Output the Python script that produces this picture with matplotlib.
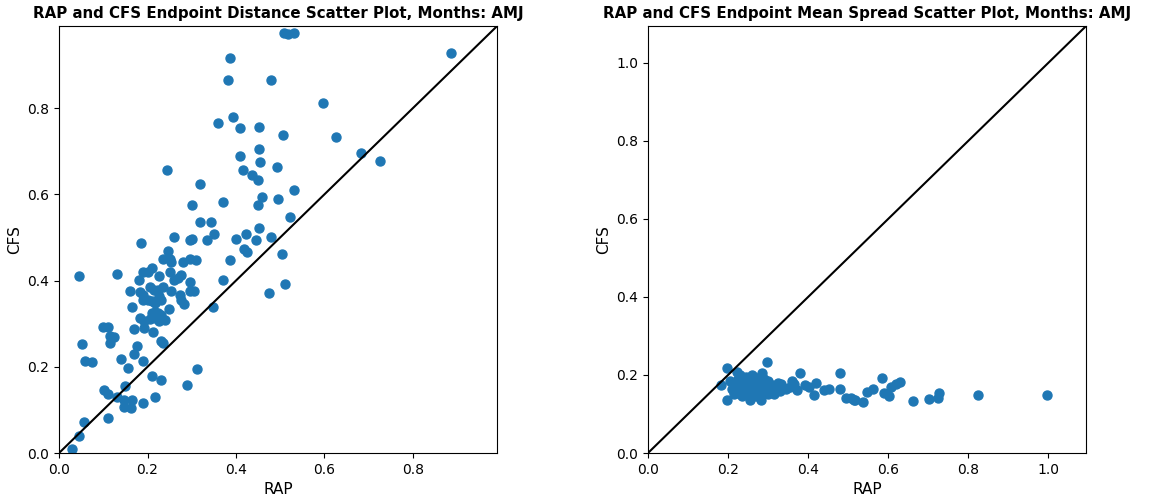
import matplotlib
matplotlib.use('Agg')
from matplotlib import pyplot as plt

# endpoint distance (left panel)
dist_rap = [0.386, 0.381, 0.480, 0.394, 0.360, 0.410, 0.452, 0.506, 0.452, 0.410,
            0.454, 0.493, 0.416, 0.244, 0.437, 0.450, 0.318, 0.458, 0.496, 0.371,
            0.450, 0.301, 0.318, 0.343, 0.452, 0.351, 0.259, 0.300, 0.295, 0.334,
            0.401, 0.423, 0.445, 0.479, 0.186, 0.509, 0.517, 0.530, 0.887, 0.596,
            0.626, 0.683, 0.725, 0.530, 0.522, 0.505, 0.511, 0.475, 0.246, 0.417,
            0.425, 0.235, 0.250, 0.254, 0.280, 0.297, 0.310, 0.387, 0.209, 0.201,
            0.190, 0.250, 0.132, 0.045, 0.227, 0.275, 0.269, 0.260, 0.180, 0.370,
            0.297, 0.206, 0.215, 0.224, 0.235, 0.161, 0.182, 0.190, 0.252, 0.295,
            0.305, 0.227, 0.230, 0.273, 0.276, 0.282, 0.190, 0.200, 0.209, 0.216,
            0.164, 0.248, 0.348, 0.216, 0.209, 0.224, 0.231, 0.216, 0.239, 0.227,
            0.205, 0.192, 0.182, 0.100, 0.111, 0.169, 0.192, 0.212, 0.115, 0.125,
            0.115, 0.230, 0.235, 0.052, 0.177, 0.169, 0.059, 0.075, 0.140, 0.190,
            0.156, 0.311, 0.210, 0.231, 0.149, 0.290, 0.102, 0.110, 0.132, 0.147,
            0.165, 0.218, 0.147, 0.162, 0.190, 0.111, 0.057, 0.045, 0.029]
dist_cfs = [0.915, 0.866, 0.864, 0.779, 0.766, 0.753, 0.755, 0.738, 0.705, 0.688,
            0.674, 0.664, 0.657, 0.657, 0.644, 0.633, 0.624, 0.593, 0.589, 0.582,
            0.575, 0.575, 0.536, 0.536, 0.521, 0.509, 0.501, 0.497, 0.494, 0.494,
            0.497, 0.507, 0.494, 0.501, 0.486, 0.973, 0.971, 0.973, 0.928, 0.812,
            0.734, 0.695, 0.677, 0.609, 0.548, 0.462, 0.392, 0.372, 0.469, 0.472,
            0.466, 0.451, 0.451, 0.443, 0.443, 0.449, 0.447, 0.447, 0.428, 0.420,
            0.420, 0.420, 0.416, 0.410, 0.410, 0.412, 0.407, 0.402, 0.401, 0.401,
            0.396, 0.384, 0.379, 0.378, 0.384, 0.375, 0.374, 0.366, 0.375, 0.375,
            0.375, 0.364, 0.355, 0.366, 0.355, 0.345, 0.355, 0.355, 0.353, 0.347,
            0.338, 0.334, 0.338, 0.327, 0.324, 0.324, 0.320, 0.314, 0.308, 0.307,
            0.310, 0.307, 0.312, 0.293, 0.293, 0.287, 0.289, 0.281, 0.271, 0.270,
            0.254, 0.260, 0.254, 0.253, 0.248, 0.229, 0.213, 0.211, 0.219, 0.213,
            0.196, 0.194, 0.178, 0.169, 0.155, 0.158, 0.146, 0.136, 0.130, 0.124,
            0.123, 0.130, 0.107, 0.104, 0.115, 0.082, 0.071, 0.040, 0.009]

# endpoint mean spread (right panel)
spread_rap = [0.197, 0.183, 0.197, 0.297, 0.222, 0.256, 0.281, 0.314, 0.331, 0.379,
              0.364, 0.373, 0.393, 0.402, 0.419, 0.414, 0.439, 0.451, 0.479, 0.480,
              0.494, 0.515, 0.506, 0.516, 0.538, 0.546, 0.562, 0.584, 0.590, 0.601,
              0.607, 0.619, 0.630, 0.663, 0.703, 0.725, 0.728, 0.824, 0.996,
              0.205, 0.210, 0.215, 0.220, 0.225, 0.230, 0.235, 0.240, 0.245, 0.250,
              0.250, 0.255, 0.260, 0.265, 0.265, 0.270, 0.275, 0.280, 0.280, 0.285,
              0.290, 0.295, 0.300, 0.305, 0.310, 0.315, 0.320, 0.325, 0.330, 0.335,
              0.240, 0.230, 0.260, 0.270, 0.290, 0.300, 0.220, 0.345, 0.355, 0.360]
spread_cfs = [0.217, 0.174, 0.136, 0.234, 0.208, 0.136, 0.137, 0.151, 0.178, 0.204,
              0.178, 0.161, 0.174, 0.170, 0.180, 0.148, 0.161, 0.163, 0.206, 0.165,
              0.140, 0.136, 0.140, 0.136, 0.131, 0.157, 0.165, 0.193, 0.153, 0.146,
              0.170, 0.178, 0.182, 0.134, 0.138, 0.140, 0.153, 0.148, 0.148,
              0.185, 0.165, 0.150, 0.175, 0.190, 0.160, 0.145, 0.180, 0.195, 0.170,
              0.155, 0.185, 0.165, 0.150, 0.195, 0.175, 0.160, 0.190, 0.145, 0.205,
              0.170, 0.155, 0.185, 0.165, 0.175, 0.160, 0.170, 0.180, 0.160, 0.170,
              0.160, 0.200, 0.200, 0.145, 0.190, 0.150, 0.155, 0.165, 0.170, 0.185]

panels = [
    (dist_rap, dist_cfs, 0.99, 'RAP and CFS Endpoint Distance Scatter Plot, Months: AMJ'),
    (spread_rap, spread_cfs, 1.094, 'RAP and CFS Endpoint Mean Spread Scatter Plot, Months: AMJ'),
]

fig = plt.figure(figsize=(11.51, 5.01), dpi=100)
lefts = [0.0513, 0.563]
for (x, y, lim, title), left in zip(panels, lefts):
    ax = fig.add_axes([left, 0.0958, 0.3805, 0.852])
    ax.scatter(x, y, s=42, color='#1f77b4', zorder=2)
    ax.plot([0, lim], [0, lim], color='black', zorder=3)
    ax.set_xlim(0, lim)
    ax.set_ylim(0, lim)
    ax.set_title(title, fontsize=10.8, fontweight='bold', pad=6)
    ax.set_xlabel('RAP', fontsize=11)
    ax.set_ylabel('CFS', fontsize=11)
    ax.tick_params(labelsize=10)

fig.savefig('out.png', dpi=100)
